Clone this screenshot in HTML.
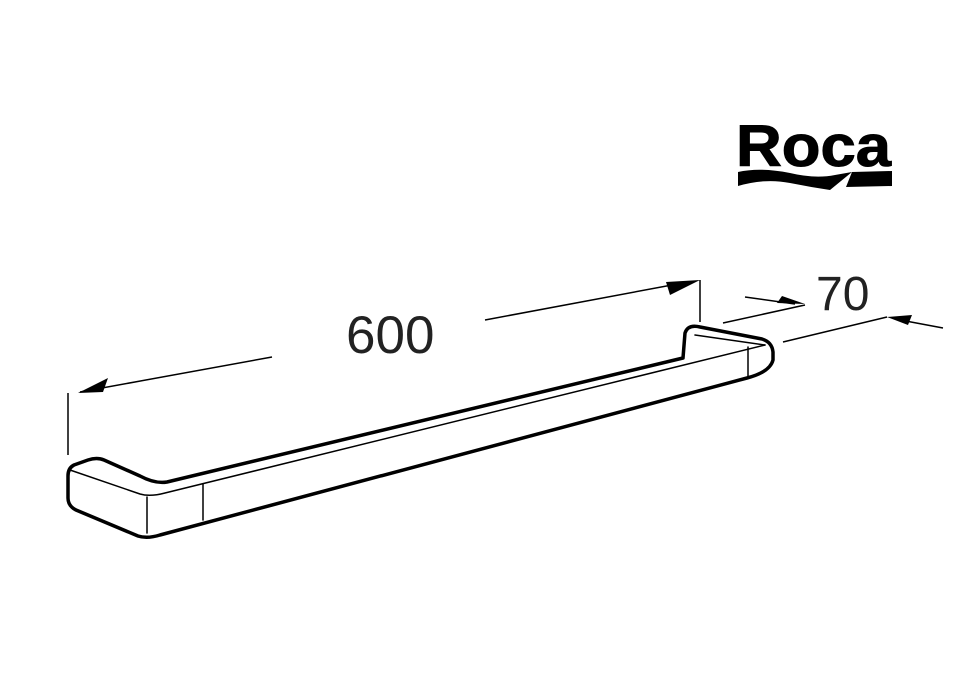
<!DOCTYPE html>
<html><head><style>html,body{margin:0;padding:0;background:#fff;}svg{display:block}</style></head>
<body>
<svg width="963" height="684" viewBox="0 0 963 684" xmlns="http://www.w3.org/2000/svg">
<rect width="963" height="684" fill="#fff"/>
<!-- logo -->
<text x="736" y="166" font-family="Liberation Sans, sans-serif" font-weight="bold" font-size="58" textLength="155" lengthAdjust="spacingAndGlyphs" fill="#000" stroke="#000" stroke-width="1">Roca</text>
<path d="M738 172 Q760 167 790 173 Q815 179 835 175 L852 172 L830 190 Q810 187 790 183 Q765 178 738 186 Z" fill="#000"/>
<path d="M852 172 L892 171 L892 186 L846 187 Z" fill="#000"/>
<!-- bar -->
<g fill="none" stroke="#000" stroke-linecap="round" stroke-linejoin="round">
<path d="M683 358 L167 482 Q155 484 140 476 L104 460 Q97 457 88 460 L74 465 Q68 468 68 476 L68 498 Q68 506 76 510 L138 536 Q147 539 160 535 L747 378 Q770 372 773 360 L773 352 Q772 342 762 339 L700 327 Q688 324 685 333 L683 358" stroke-width="3.5"/>
<path d="M70 470 L140 494 Q150 497 165 493 L765 345" stroke-width="1.5"/>
<path d="M695 335 L765 345" stroke-width="1.5"/>
<path d="M147 497 L147 533 M203 484 L203 520 M748 347 L748 378" stroke-width="1.5"/>
</g>
<!-- dimensions -->
<g stroke="#000" stroke-width="1.5" fill="none">
<path d="M68 393 L68 455 M700 280 L700 322"/>
<path d="M80 392 L272 357 M485 320 L688 282"/>
<path d="M723 323 L805 305 M745 297 L795 304"/>
<path d="M783 342 L887 317 M895 319 L943 328"/>
</g>
<g fill="#000">
<path d="M78 393 L108 378 L103 392 Z"/>
<path d="M700 280 L670 295 L666 282 Z"/>
<path d="M805 304 L777 303 L782 296 Z"/>
<path d="M887 317 L912 315 L908 325 Z"/>
</g>
<text x="346" y="353" font-family="Liberation Sans, sans-serif" font-size="53" fill="#222">600</text>
<text x="816" y="310" font-family="Liberation Sans, sans-serif" font-size="48" fill="#222">70</text>
</svg>
</body></html>
